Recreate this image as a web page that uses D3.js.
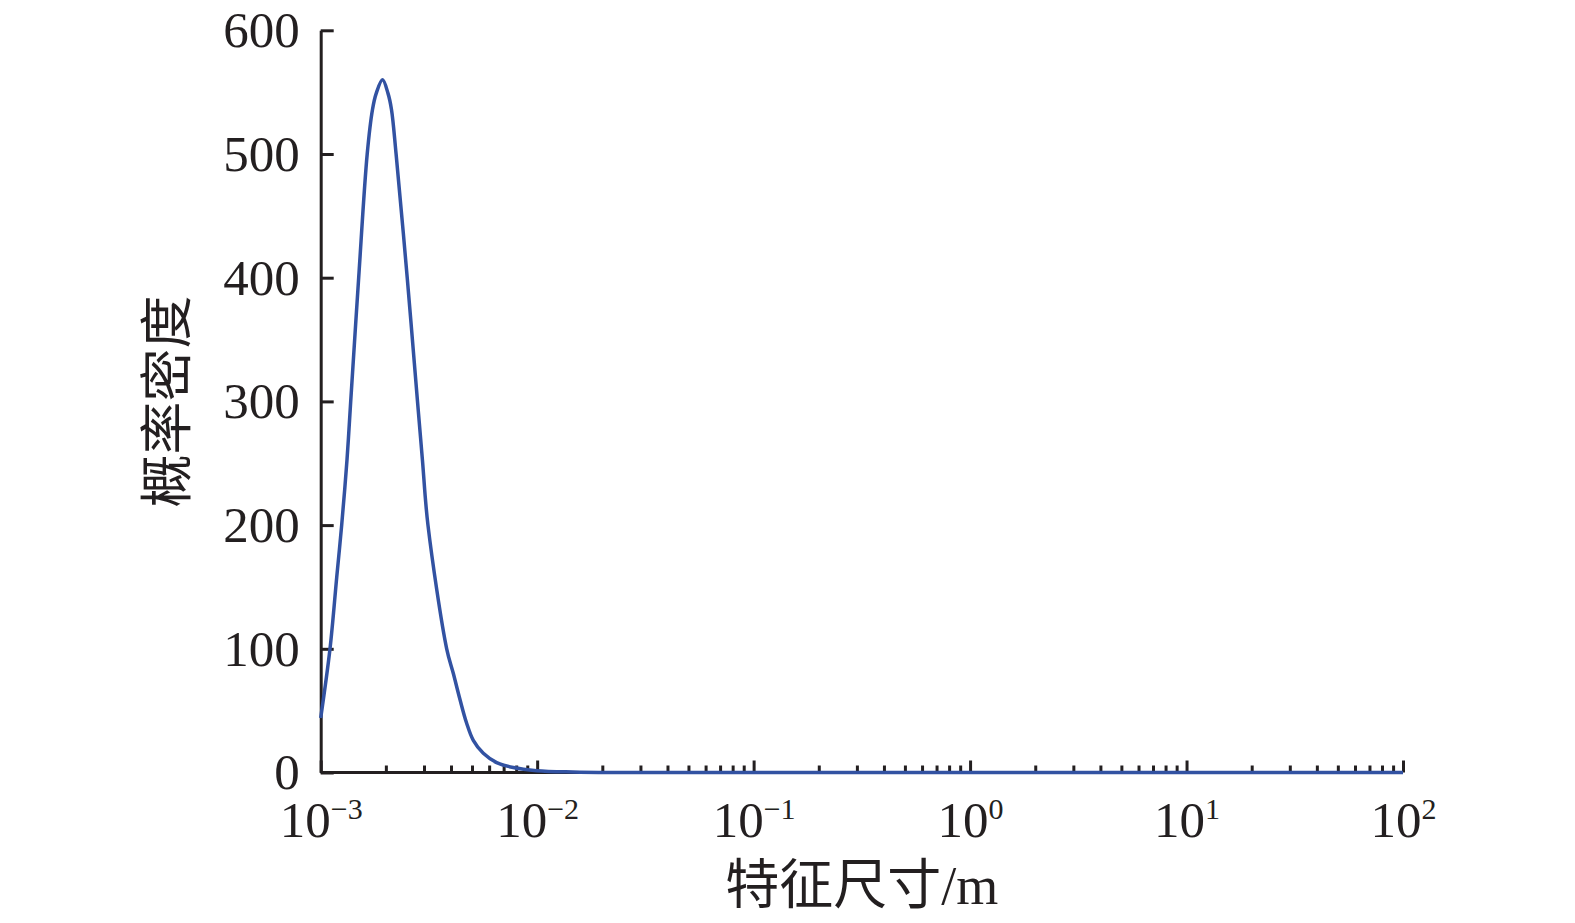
<!DOCTYPE html>
<html>
<head>
<meta charset="utf-8">
<script src="https://cdn.jsdelivr.net/npm/d3@7"></script>
<style>
  html, body { margin: 0; padding: 0; background: #fff; }
  svg { display: block; }
  .axis path, .axis line { stroke: #231f20; stroke-width: 3; }
  .axis text { font-family: "Liberation Serif", "DejaVu Serif", serif; fill: #231f20; }
  .title { font-family: "Noto Sans CJK SC", sans-serif; fill: #231f20; }
</style>
</head>
<body>
<svg width="1575" height="923"></svg>
<script>
// characteristic size (m) and probability density
const sizes = [0.001, 0.001104, 0.001186, 0.00125, 0.001323, 0.001376, 0.001498,
  0.00164, 0.001735, 0.001805, 0.00193, 0.002046, 0.002123, 0.00223, 0.00251, 0.0028,
  0.00295, 0.00313, 0.00382, 0.0041, 0.0044, 0.00472, 0.00507, 0.00564,
  0.0065, 0.00776, 0.00995, 0.0146, 0.0217, 0.05, 0.1, 1, 10, 100];
const density = [44, 100, 158, 200, 253, 300, 400,
  500, 536, 549, 560, 549, 536, 500, 400, 300,
  253, 200, 100, 80, 59, 40, 26, 15.5,
  8, 4, 1.5, 0.4, 0, 0, 0, 0, 0, 0];

const yTicks = [0, 100, 200, 300, 400, 500, 600];
const xMajor = [1e-3, 1e-2, 1e-1, 1e0, 1e1, 1e2];
const xExp = ["\u22123", "\u22122", "\u22121", "0", "1", "2"];
const xMinor = [];
xMajor.slice(0, -1).forEach(p => { for (let k = 2; k <= 9; k++) xMinor.push(p * k); });

// plot box in px
const plotL = 320.7, plotT = 30.3, plotR = 1403, plotB = 772.5;

const svg = d3.select('svg');

const x = d3.scaleLog().domain([1e-3, 1e2]).range([plotL, plotR]);
const y = d3.scaleLinear().domain([0, 600]).range([plotB, plotT]);

// y axis, ticks pointing inward
svg.append('g')
  .attr('class', 'axis')
  .attr('transform', `translate(${plotL},0)`)
  .call(d3.axisLeft(y).tickValues(yTicks).tickSizeInner(-13).tickSizeOuter(0).tickPadding(21).tickFormat(d3.format('d')))
  .call(g => g.selectAll('text').attr('font-size', 51).attr('dy', '0.32em'));

// x axis minor ticks
svg.append('g')
  .attr('class', 'axis')
  .attr('transform', `translate(0,${plotB})`)
  .call(d3.axisBottom(x).tickValues(xMinor).tickSizeInner(-7).tickSizeOuter(0).tickFormat(() => ''))
  .call(g => g.select('.domain').remove());

// x axis major ticks + 10^n labels
svg.append('g')
  .attr('class', 'axis')
  .attr('transform', `translate(0,${plotB})`)
  .call(d3.axisBottom(x).tickValues(xMajor).tickSizeInner(-12).tickSizeOuter(0).tickFormat(() => ''))
  .call(g => g.select('.domain').attr('d', `M${plotL},0H${plotR}`))
  .call(g => g.selectAll('.tick text').each(function (d, i) {
    const t = d3.select(this).attr('y', 64).attr('dy', null).attr('font-size', 51);
    t.append('tspan').text('10');
    t.append('tspan').attr('font-size', 30).attr('dy', -18).text(xExp[i]);
  }));

// density curve
const line = d3.line()
  .x((d, i) => x(sizes[i]))
  .y(d => y(d))
  .curve(d3.curveCatmullRom.alpha(0.5));

svg.append('path')
  .datum(density)
  .attr('fill', 'none')
  .attr('stroke', '#3252a2')
  .attr('stroke-width', 3.5)
  .attr('stroke-linejoin', 'round')
  .attr('d', line);

// axis titles
svg.append('text')
  .attr('class', 'title')
  .attr('x', (plotL + plotR) / 2)
  .attr('y', 904)
  .attr('text-anchor', 'middle')
  .attr('font-size', 54)
  .text('特征尺寸')
  .append('tspan')
  .style('font-family', '"Liberation Serif", serif')
  .text('/m');

svg.append('text')
  .attr('class', 'title')
  .attr('transform', `translate(162.5,${(plotT + plotB) / 2}) rotate(-90)`)
  .attr('text-anchor', 'middle')
  .attr('dominant-baseline', 'central')
  .attr('font-size', 53)
  .text('概率密度');
</script>
</body>
</html>
